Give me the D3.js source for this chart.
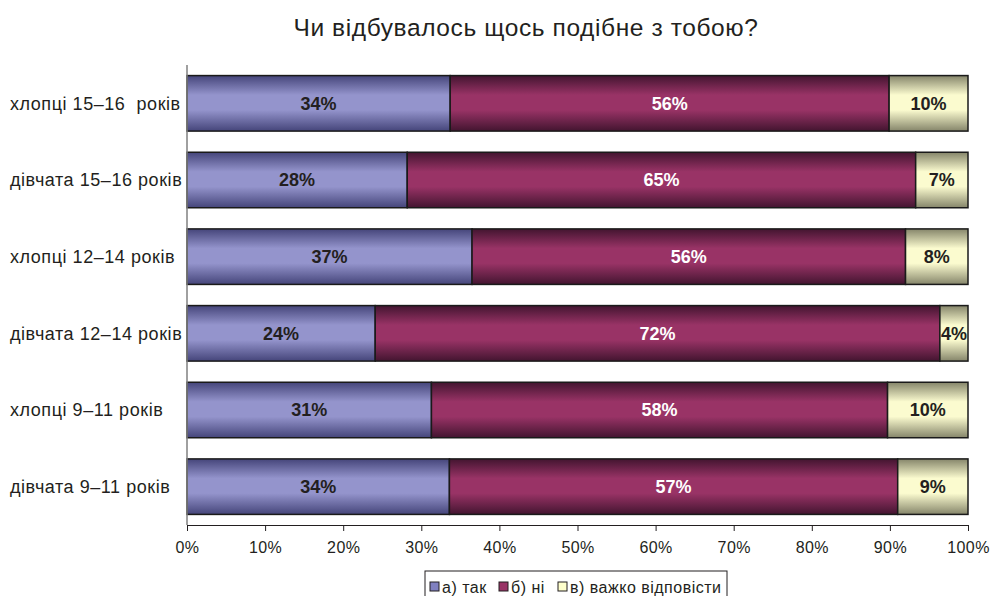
<!DOCTYPE html>
<html>
<head>
<meta charset="utf-8">
<script src="https://cdn.jsdelivr.net/npm/d3@7"></script>
<style>
  body { margin: 0; background: #fff; }
  text { font-family: "Liberation Sans", Arial, sans-serif; }
</style>
</head>
<body>
<svg id="chart"></svg>
<script>
// categories, top to bottom
const groups = ["хлопці 15–16  років", "дівчата 15–16 років", "хлопці 12–14 років", "дівчата 12–14 років", "хлопці 9–11 років", "дівчата 9–11 років"];
const answers = ["а) так", "б) ні", "в) важко відповісти"];
const tak = [33.7, 28.2, 36.5, 24.1, 31.3, 33.6];
const ni = [56.2, 65.1, 55.5, 72.3, 58.4, 57.4];
const vazhko = [10.1, 6.7, 8.0, 3.6, 10.3, 9.0];
const ticks = [0, 10, 20, 30, 40, 50, 60, 70, 80, 90, 100];

const W = 990, H = 596;
const m = { top: 65, left: 187, right: 22, bottom: 71 };

const svg = d3.select("#chart").attr("width", W).attr("height", H);

const rows = groups.map((g, i) => ({ group: g, [answers[0]]: tak[i], [answers[1]]: ni[i], [answers[2]]: vazhko[i] }));
const series = d3.stack().keys(answers)(rows);

const x = d3.scaleLinear().domain([0, 100]).range([m.left, W - m.right]);
const y = d3.scaleBand().domain(groups).range([m.top, H - m.bottom]).paddingInner(0.276).paddingOuter(0.138);

// gradients: dark at the edges, light in the middle
const grads = [
  ["gTak", "#45457a", "#9494cc"],
  ["gNi", "#431530", "#993366"],
  ["gVaz", "#85856a", "#fbfbcf"]
];
const defs = svg.append("defs");
grads.forEach(([id, dark, light]) => {
  const g = defs.append("linearGradient").attr("id", id).attr("x1", 0).attr("y1", 0).attr("x2", 0).attr("y2", 1);
  g.append("stop").attr("offset", "0%").attr("stop-color", dark);
  g.append("stop").attr("offset", "35%").attr("stop-color", light);
  g.append("stop").attr("offset", "62%").attr("stop-color", light);
  g.append("stop").attr("offset", "100%").attr("stop-color", dark);
});
const fill = d3.scaleOrdinal().domain(answers).range(["url(#gTak)", "url(#gNi)", "url(#gVaz)"]);
const labelColor = d3.scaleOrdinal().domain(answers).range(["#231f20", "#ffffff", "#231f20"]);
const swatch = d3.scaleOrdinal().domain(answers).range(["#8080c0", "#993366", "#ffffcc"]);

// title
svg.append("text")
  .attr("x", 526).attr("y", 36)
  .attr("text-anchor", "middle")
  .style("font-size", "24.5px")
  .style("letter-spacing", "0.6px")
  .attr("fill", "#231f20")
  .text("Чи відбувалось щось подібне з тобою?");

// bars
const layer = svg.append("g").selectAll("g")
  .data(series)
  .join("g")
  .attr("fill", d => fill(d.key));

layer.selectAll("rect")
  .data(d => d)
  .join("rect")
  .attr("x", d => x(d[0]))
  .attr("y", d => y(d.data.group))
  .attr("width", d => x(d[1]) - x(d[0]))
  .attr("height", y.bandwidth())
  .attr("stroke", "#1a1a1a")
  .attr("stroke-width", 1.5);

// data labels
svg.append("g").selectAll("g")
  .data(series)
  .join("g")
  .attr("fill", d => labelColor(d.key))
  .selectAll("text")
  .data(d => d)
  .join("text")
  .attr("x", d => (x(d[0]) + x(d[1])) / 2)
  .attr("y", d => y(d.data.group) + y.bandwidth() / 2)
  .attr("dy", "0.36em")
  .attr("text-anchor", "middle")
  .style("font-size", "18px")
  .style("font-weight", "bold")
  .text(d => Math.round(d[1] - d[0]) + "%");

// y axis line and category labels
svg.append("line")
  .attr("x1", m.left).attr("x2", m.left)
  .attr("y1", m.top).attr("y2", H - m.bottom)
  .attr("stroke", "#808080").attr("stroke-width", 1.5);

svg.append("g").selectAll("text")
  .data(groups)
  .join("text")
  .attr("x", 10)
  .attr("y", d => y(d) + y.bandwidth() / 2)
  .attr("dy", "0.36em")
  .style("font-size", "18px")
  .style("letter-spacing", "0.55px")
  .style("white-space", "pre")
  .attr("fill", "#231f20")
  .text(d => d);

// x axis
const xAxis = svg.append("g")
  .attr("transform", `translate(0,${H - m.bottom})`)
  .call(d3.axisBottom(x).tickValues(ticks).tickSize(6).tickSizeOuter(0).tickFormat(d => d + "%"));
xAxis.select(".domain").attr("stroke", "#231f20").attr("stroke-width", 1.2);
xAxis.selectAll(".tick line").attr("stroke", "#231f20");
xAxis.selectAll(".tick text")
  .attr("y", 17)
  .attr("fill", "#231f20")
  .style("font-size", "16px")
  .style("letter-spacing", "0.4px")
  .style("font-family", "Liberation Sans, Arial, sans-serif");

// legend
const legend = svg.append("g").attr("transform", "translate(425,571)");
legend.append("rect")
  .attr("x", 0).attr("y", 0).attr("width", 302).attr("height", 30)
  .attr("fill", "#fff").attr("stroke", "#231f20").attr("stroke-width", 1);
const legendX = [5, 74, 133];
const item = legend.selectAll("g.item")
  .data(answers)
  .join("g")
  .attr("class", "item")
  .attr("transform", (d, i) => `translate(${legendX[i]},0)`);
item.append("rect")
  .attr("x", 0).attr("y", 11).attr("width", 9).attr("height", 9)
  .attr("fill", d => swatch(d))
  .attr("stroke", "#231f20").attr("stroke-width", 1);
item.append("text")
  .attr("x", 12).attr("y", 16)
  .attr("dy", "0.36em")
  .style("font-size", "16px")
  .style("letter-spacing", "0.5px")
  .attr("fill", "#231f20")
  .text(d => d);
</script>
</body>
</html>
